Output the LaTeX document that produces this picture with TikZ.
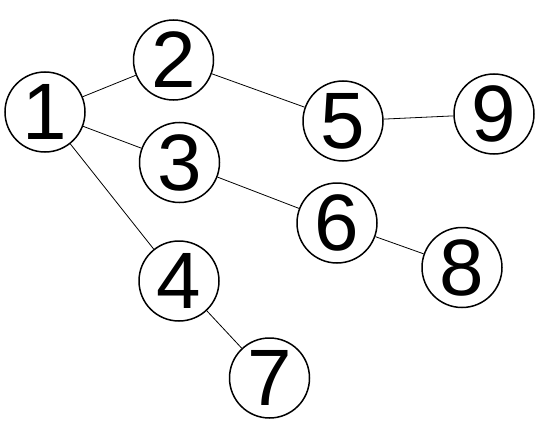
\documentclass[tikz,border=0pt]{standalone}
\usepackage{fontspec}
\setmainfont{Liberation Sans}
\begin{document}
\begin{tikzpicture}[x=1pt,y=-1pt,
  vert/.style={circle,draw=black,line width=1.5pt,minimum size=80pt,inner sep=0pt,font=\fontsize{80}{80}\selectfont},
  edge/.style={line width=0.8pt}]
\useasboundingbox (0,0) rectangle (553,433);
\node[vert] (n1) at (45,112) {1};
\node[vert] (n2) at (173.5,60) {2};
\node[vert] (n3) at (179.5,162.5) {3};
\node[vert] (n4) at (179,281) {4};
\node[vert] (n5) at (343,121) {5};
\node[vert] (n6) at (337,223) {6};
\node[vert] (n7) at (269.5,378) {7};
\node[vert] (n8) at (462,267.5) {8};
\node[vert] (n9) at (494,114) {9};
\draw[edge] (n1) -- (n2);
\draw[edge] (n1) -- (n3);
\draw[edge] (n1) -- (n4);
\draw[edge] (n2) -- (n5);
\draw[edge] (n3) -- (n6);
\draw[edge] (n4) -- (n7);
\draw[edge] (n5) -- (n9);
\draw[edge] (n6) -- (n8);
\end{tikzpicture}
\end{document}
